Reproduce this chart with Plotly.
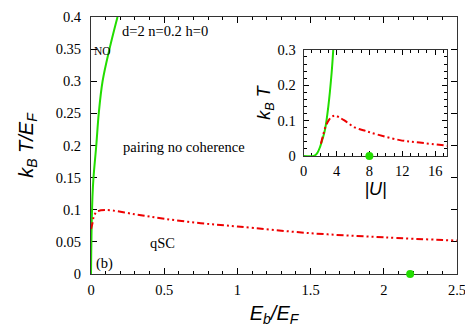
import plotly.graph_objects as go

# main panel: T vs Eb/EF
green_eb = [0, 0.002, 0.005, 0.01, 0.017, 0.036, 0.053, 0.079, 0.126, 0.181]
green_t = [0, 0.04, 0.08, 0.12, 0.15, 0.2, 0.25, 0.3, 0.35, 0.4]
red_eb = [0, 0.01, 0.02, 0.04, 0.1, 0.3, 0.5, 0.75, 1.0, 1.5, 2.0, 2.5]
red_t = [0.07, 0.079, 0.09, 0.097, 0.0995, 0.093, 0.086, 0.079, 0.074, 0.0635, 0.057, 0.052]
dot_eb = [2.18]
dot_t = [0]

# inset: T vs |U|
in_green_u = [0, 1.2, 1.4, 1.7, 2.0, 2.3, 2.6, 3.0, 3.4, 3.6]
in_green_t = [0, 0, 0.002, 0.01, 0.026, 0.048, 0.075, 0.14, 0.234, 0.3]
in_red_u = [2.1, 2.4, 2.7, 3.1, 3.5, 3.8, 4.2, 5.0, 6.2, 7.4, 8.2, 11.7, 14.1, 17.5]
in_red_t = [0.035, 0.062, 0.085, 0.103, 0.112, 0.114, 0.111, 0.1, 0.081, 0.072, 0.066, 0.045, 0.038, 0.029]
in_dot_u = [8]
in_dot_t = [0]

GREEN = "#22dd00"
RED = "#ee0000"
DASH = "7px,3px,2px,3px,2px,3px"
serif = "Liberation Serif, Times New Roman, serif"
sans = "Liberation Sans, Arial, sans-serif"

# page body has an 8px margin, so the figure sits 8px in from the window corner
W, H = 465, 323
OFF = 8
L, T, R, B = 90.5, 17, 457.3, 274  # plot area in window pixels

fig = go.Figure()
fig.add_trace(go.Scatter(x=green_eb, y=green_t, mode="lines", line=dict(color=GREEN, width=2), line_shape="spline"))
fig.add_trace(go.Scatter(x=red_eb, y=red_t, mode="lines", line=dict(color=RED, width=2, dash=DASH), line_shape="spline"))
fig.add_trace(go.Scatter(x=dot_eb, y=dot_t, mode="markers", marker=dict(color=GREEN, size=8), cliponaxis=False))

fig.add_trace(go.Scatter(x=in_green_u, y=in_green_t, mode="lines", line=dict(color=GREEN, width=2),
                         line_shape="spline", xaxis="x2", yaxis="y2"))
fig.add_trace(go.Scatter(x=in_red_u, y=in_red_t, mode="lines", line=dict(color=RED, width=2, dash=DASH),
                         line_shape="spline", xaxis="x2", yaxis="y2"))
fig.add_trace(go.Scatter(x=in_dot_u, y=in_dot_t, mode="markers", marker=dict(color=GREEN, size=8),
                         cliponaxis=False, xaxis="x2", yaxis="y2"))

axis_common = dict(showgrid=False, zeroline=False, showline=True, linecolor="#333", linewidth=1,
                   ticks="inside", tickcolor="black", mirror="ticks", layer="below traces",
                   tickfont=dict(family=serif, size=14.5, color="black"))

fig.update_layout(
    width=W, height=H,
    margin=dict(l=L - OFF, r=W - (R - OFF), t=T - OFF, b=H - (B - OFF), autoexpand=False),
    plot_bgcolor="white", paper_bgcolor="white",
    showlegend=False,
    font=dict(family=serif, color="black"),
    xaxis=dict(range=[0, 2.5], dtick=0.5, ticklen=6, ticklabelstandoff=3,
               minor=dict(dtick=0.1, ticks="inside", ticklen=3, tickcolor="black"),
               title=dict(text="<i>E<sub>b</sub>/E<sub>F</sub></i>", font=dict(family=sans, size=20, color="black"),
                          standoff=8),
               **axis_common),
    yaxis=dict(range=[0, 0.4], dtick=0.05, ticklen=6, ticklabelstandoff=6,
               title=dict(text="<i>k<sub>B</sub> T/E<sub>F</sub></i>", font=dict(family=sans, size=20, color="black"),
                          standoff=16),
               **axis_common),
    xaxis2=dict(domain=[0.581, 0.974], anchor="y2", range=[0, 17.5], dtick=4, ticklen=5, ticklabelstandoff=2,
                minor=dict(dtick=1, ticks="inside", ticklen=3, tickcolor="black"),
                title=dict(text="<i>|U|</i>", font=dict(family=sans, size=18, color="black"), standoff=2),
                **axis_common),
    yaxis2=dict(domain=[0.459, 0.872], anchor="x2", range=[0, 0.3], dtick=0.1, ticklen=5,
                ticklabelstandoff=4,
                minor=dict(dtick=0.02, ticks="inside", ticklen=3, tickcolor="black"),
                title=dict(text="<i>k<sub>B</sub> T</i>", font=dict(family=sans, size=18, color="black"), standoff=2),
                **axis_common),
)

notes = [
    ("d=2 n=0.2 h=0", 120, 31, 14.5),
    ("NO", 92, 51, 11.5),
    ("pairing no coherence", 120.5, 147, 14.5),
    ("qSC", 148, 243, 14.5),
    ("(b)", 93.5, 263, 14.5),
]
for text, px_x, px_y, size in notes:
    fig.add_annotation(text=text, xref="paper", yref="paper",
                       x=(px_x - L) / (R - L), y=(B - px_y) / (B - T),
                       xanchor="left", yanchor="middle", showarrow=False,
                       font=dict(family=serif, size=size, color="black"))

fig.write_html("out.html")
